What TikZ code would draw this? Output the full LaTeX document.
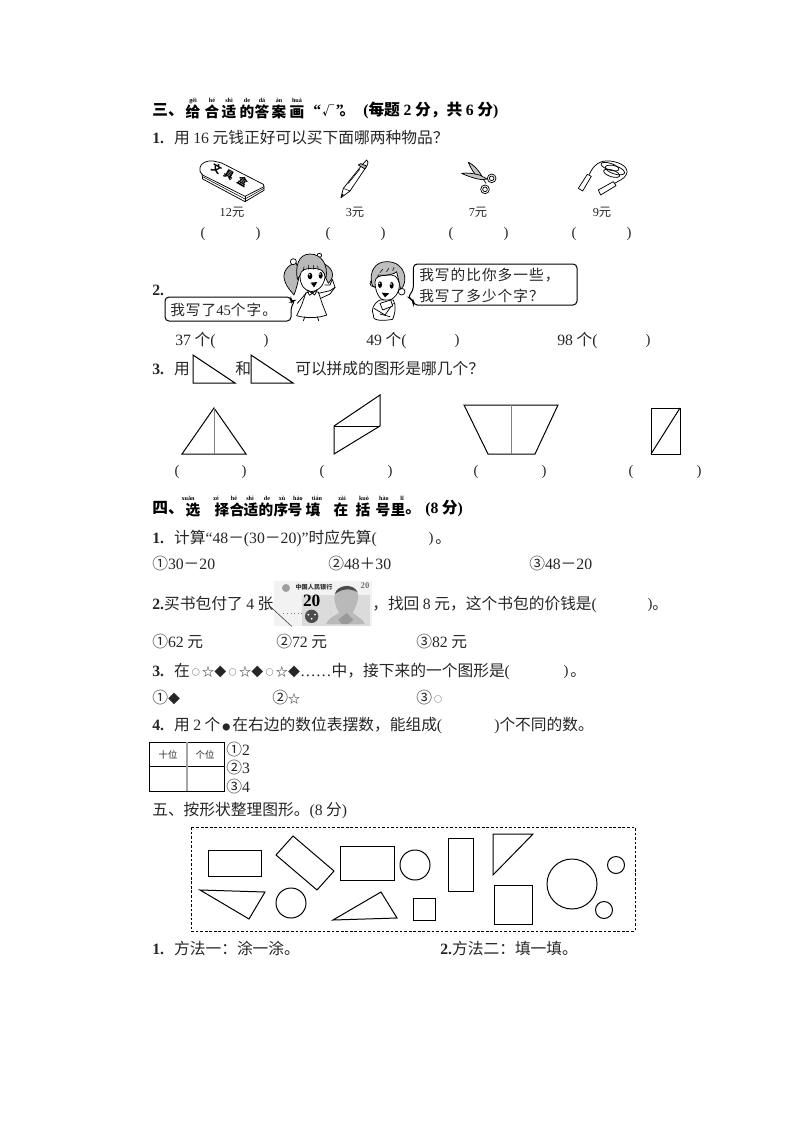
\documentclass[tikz,border=0pt]{standalone}
\usepackage{fontspec}
\setmainfont{Noto Sans CJK SC}
\newfontfamily\ser{Liberation Serif}
\newfontfamily\cjkwide[LetterSpace=7]{Noto Sans CJK SC}
\newcommand\lat[1]{{\ser #1}}
\newcommand\latb[1]{{\ser\bfseries #1}}
\newcommand\fs[1]{\fontsize{#1}{#1}\selectfont}
\newcommand\ocir{\makebox[9.2pt][c]{\raisebox{.6pt}{\fs{6}○}}}
\newcommand\ostar{\makebox[9.2pt][c]{\fs{9}☆}}
\newcommand\odia{\makebox[9.2pt][c]{\fs{9}◆}}
\colorlet{ink}{black!85}
\tikzset{
  txt/.style={anchor=mid west,inner sep=0pt,font=\fs{11.8},yshift=-1.2pt,text=ink},
  hd/.style={anchor=mid west,inner sep=0pt,font=\fs{11.8}\bfseries,yshift=-1.2pt},
  ch/.style={anchor=mid,inner sep=0pt,font=\fs{11}\bfseries,yshift=-1.2pt},
  py/.style={anchor=mid,inner sep=0pt,font=\fs{4.6}\ser\bfseries},
  pr/.style={anchor=mid,inner sep=0pt,font=\fs{11}\ser,yshift=-.6pt,text=ink},
  price/.style={anchor=mid,inner sep=0pt,font=\fs{9.2},yshift=-.8pt,text=ink},
  bub/.style={anchor=mid west,inner sep=0pt,font=\fs{11}\cjkwide,yshift=-1pt,text=ink},
  geo/.style={draw=black,line width=.75pt,line join=miter},
  ill/.style={draw=black,line width=.55pt,line join=round,line cap=round},
  thinl/.style={draw=black,line width=.4pt,line cap=round},
}
\begin{document}
\begin{tikzpicture}[x=.75pt,y=-.75pt]
\useasboundingbox (0,0) rectangle (794,1123);
\fill[white] (0,0) rectangle (794,1123);
% section three
\node[hd] (h3) at (152,110) {三、};
\foreach \n/\x/\c/\p in {a/193/给/gěi,b/212/合/hé,c/229/适/shì,d/247/的/de,e/262/答/dá,f/279/案/àn,g/297/画/huà}{
  \node[ch] (hc\n) at (\x,112) {\c};
  \node[py] (hp\n) at (\x,99) {\p};
}
\node[hd] (h3b) at (313,110) {\latb{“}\hspace{1pt}{\fs{9}√}\hspace{1pt}\latb{”}\hspace{-3pt}。};
\node[hd] (h3c) at (363,110) {\latb{(}每题 \latb{2} 分，共 \latb{6} 分\latb{)}};
\node[txt] (q1) at (152,138) {\latb{1}\latb{.}\hspace{7.5pt}用 \lat{16} 元钱正好可以买下面哪两种物品？};
% pencil box
\begin{scope}[shift={(190,155)},scale=1/3]
 \draw[ill,fill=white] (30,38) .. controls (32,25) and (48,16) .. (70,18) -- (95,24) -- (220,88) -- (222,95) -- (165,124) -- (38,60) .. controls (30,52) and (28,45) .. (30,38) -- cycle;
 \draw[ill] (36,56) -- (38,72) -- (165,140) -- (222,106) -- (222,95);
 \draw[ill] (165,124) -- (165,140);
 \draw[thinl] (38,65) -- (165,132) -- (222,100);
 \node[inner sep=0,rotate=-30,font=\fs{7.5}\bfseries] (box1) at (80,40) {文};
 \node[inner sep=0,rotate=-30,font=\fs{7.5}\bfseries] (box2) at (117,60) {具};
 \node[inner sep=0,rotate=-30,font=\fs{7.5}\bfseries] (box3) at (158,80) {盒};
 % pen
 \draw[ill,fill=white] (453,128) -- (460,100) -- (516,30) -- (530,15) -- (534,22) -- (531,32) -- (480,108) -- cycle;
 \draw[thinl] (460,100) -- (480,108);
 \draw[ill,fill=gray!60] (505,30) -- (512,26) -- (530,33) -- (525,42) -- cycle;
 \draw[thinl] (475,85) -- (510,42);
 \fill[black] (453,128) -- (455,116) -- (461,119) -- cycle;
\end{scope}
% scissors and rope
\begin{scope}[shift={(450,155)},scale=1/3]
 \draw[ill] (55,22) .. controls (70,30) and (85,50) .. (108,85);
 \draw[ill,fill=gray!45] (55,22) .. controls (62,40) and (72,55) .. (85,68) -- (95,62) .. controls (85,45) and (70,28) .. (55,22) -- cycle;
 \draw[ill,fill=gray!45] (35,55) .. controls (55,65) and (80,72) .. (95,74) -- (112,72) -- (88,60) .. controls (70,55) and (50,53) .. (35,55) -- cycle;
 \draw[ill] (125,70) circle (13);
 \draw[ill] (125,70) circle (7);
 \draw[ill] (105,103) circle (13);
 \draw[ill] (105,103) circle (7);
 % rope
 \draw[ill] (385,100) -- (412,58) -- (424,64) -- (398,108) -- cycle;
 \draw[ill] (445,105) -- (490,80) -- (498,92) -- (452,120) -- cycle;
 \draw[ill] (418,58) .. controls (430,30) and (450,15) .. (480,18) .. controls (515,22) and (540,40) .. (528,60) .. controls (522,72) and (505,78) .. (494,85);
 \draw[ill,rotate around={-18:(480,35)}] (480,35) ellipse (28 and 10);
 \draw[ill,rotate around={-18:(495,45)}] (495,45) ellipse (30 and 12);
 \draw[ill,rotate around={-18:(485,55)}] (485,55) ellipse (25 and 10);
\end{scope}
\node[price] (p1) at (232,212) {\lat{12}元};
\node[price] (p2) at (355,212) {\lat{3}元};
\node[price] (p3) at (478,212) {\lat{7}元};
\node[price] (p4) at (602,212) {\lat{9}元};
\foreach \n/\a/\b in {a/203/258,b/328/383,c/451/506,d/574/629}{
 \node[pr] (pl\n) at (\a,233) {(};
 \node[pr] (pr\n) at (\b,233) {)};
}
% item 2
\node[txt] (q2) at (152,290) {\latb{2.}};
\begin{scope}[shift={(280,250)},scale=1/3]
 % left girl: ponytails
 \draw[ill,fill=gray!55] (48,38) .. controls (20,45) and (5,70) .. (15,95) .. controls (22,115) and (35,125) .. (42,135) .. controls (50,115) and (55,90) .. (60,70) -- cycle;
 \draw[ill,fill=gray!55] (125,38) .. controls (155,50) and (170,75) .. (145,100) -- (130,70) -- cycle;
 \draw[ill,fill=white] (40,35) circle (9);
 \draw[ill,fill=white] (118,16) ellipse (7 and 6);
 \draw[ill,fill=gray!55] (90,12) .. controls (55,12) and (45,50) .. (52,88) -- (68,65) -- (125,65) -- (138,85) .. controls (145,45) and (125,12) .. (90,12) -- cycle;
 \draw[ill,fill=white] (60,78) .. controls (62,60) and (75,55) .. (95,55) .. controls (125,55) and (135,65) .. (135,82) .. controls (132,105) and (115,125) .. (95,125) .. controls (75,125) and (60,105) .. (60,78) -- cycle;
 \draw[thinl] (70,62) -- (72,50) (85,58) -- (85,46) (100,58) -- (100,46) (115,60) -- (113,48);
 \fill[black] (90,78) ellipse (7 and 10);
 \fill[black] (122,76) ellipse (6 and 10);
 \fill[white] (88,74) circle (2.5) (120,72) circle (2.5);
 \fill[black] (92,98) -- (112,96) -- (102,112) -- cycle;
 % girl body
 \draw[ill,fill=white] (78,128) -- (115,126) -- (128,165) -- (140,195) .. controls (115,205) and (75,205) .. (50,197) -- (65,165) -- cycle;
 \draw[ill,fill=white] (82,120) -- (97,130) -- (112,118) -- (104,135) -- (97,130) -- (88,136) -- cycle;
 \draw[ill] (115,130) -- (150,122) -- (165,112) -- (157,88) -- (150,105) -- (135,105);
 \draw[ill] (122,145) -- (150,132) -- (165,112);
 \draw[ill] (78,130) -- (52,160);
 \draw[ill] (75,200) -- (70,212) (112,200) -- (116,212);
 % right girl
 \draw[ill,fill=white] (280,100) circle (10);
 \draw[ill,fill=white] (365,125) circle (10);
 \draw[ill,fill=gray!50] (320,35) .. controls (285,35) and (268,65) .. (275,100) .. controls (278,110) and (282,112) .. (285,112) -- (295,75) .. controls (320,78) and (345,72) .. (350,65) -- (362,118) .. controls (385,100) and (380,35) .. (320,35) -- cycle;
 \draw[ill,fill=white] (285,95) .. controls (286,80) and (300,76) .. (320,76) .. controls (345,72) and (352,80) .. (358,100) .. controls (360,130) and (340,152) .. (318,152) .. controls (298,152) and (285,125) .. (285,95) -- cycle;
 \draw[thinl] (300,68) -- (308,58) (320,65) -- (326,55) (338,62) -- (342,52);
 \fill[black] (300,104) ellipse (6 and 10);
 \fill[black] (335,106) ellipse (6 and 10);
 \fill[white] (298,100) circle (2.5) (333,102) circle (2.5);
 \fill[black] (305,128) -- (328,130) -- (315,142) -- cycle;
 \draw[ill,fill=white] (300,150) .. controls (280,160) and (272,180) .. (280,195) .. controls (275,210) and (300,215) .. (338,208) .. controls (345,190) and (350,170) .. (340,150) -- cycle;
 \draw[ill] (282,175) -- (315,195) -- (340,160);
 \draw[ill,fill=white] (300,160) -- (332,150) -- (338,168) -- (308,180) -- cycle;
 \draw[ill] (300,192) -- (330,200);
 % bubbles
 \draw[line width=.75pt,fill=white,rounded corners=3pt] (-345,141) -- (33,141) -- (33,157) -- (46,150) -- (33,170) -- (33,213) -- (-345,213) -- cycle;
 \draw[line width=.75pt,fill=white,rounded corners=3pt] (400,42) -- (891,42) -- (891,165) -- (400,165) -- (400,150) -- (382,142) -- (400,122) -- cycle;
\end{scope}
\node[bub] (b1) at (170,311) {我写了\lat{45}个字。};
\node[bub] (b2) at (419,276) {我写的比你多一些，};
\node[bub] (b3) at (419,297) {我写了多少个字？};
\node[txt] (a1) at (175,340) {\lat{37} 个\lat{(}};
\node[pr] (a1r) at (266,340) {)};
\node[txt] (a2) at (366,340) {\lat{49} 个\lat{(}};
\node[pr] (a2r) at (457,340) {)};
\node[txt] (a3) at (557,340) {\lat{98} 个\lat{(}};
\node[pr] (a3r) at (648,340) {)};
% item 3
\node[txt] (q3a) at (152,369) {\latb{3}\latb{.}\hspace{7.5pt}用};
\draw[geo] (193,355) -- (193,383) -- (235,383) -- cycle;
\node[txt] (q3b) at (235,369) {和};
\draw[geo] (251,355) -- (251,383) -- (293,383) -- cycle;
\node[txt] (q3c) at (295,369) {可以拼成的图形是哪几个？};
% composite shapes
\draw[geo] (214,408) -- (182,454) -- (246,454) -- cycle;
\draw[geo,draw=gray] (214,408) -- (214,454);
\draw[geo] (334,426) -- (380,395) -- (380,426) -- (334,454) -- cycle;
\draw[geo] (334,426) -- (380,426);
\draw[geo] (464,405) -- (558,405) -- (535,454) -- (488,454) -- cycle;
\draw[geo,draw=gray] (511,405) -- (511,454);
\draw[geo] (651,408) rectangle (680,454);
\draw[geo] (651,454) -- (680,408);
\foreach \n/\a/\b in {a/177/244,b/322/390,c/476/544,d/631/699}{
 \node[pr] (ql\n) at (\a,471) {(};
 \node[pr] (qr\n) at (\b,471) {)};
}
% section four
\node[hd] (h4) at (152,508) {四、};
\foreach \n/\x/\c in {a/193/选,b/222/择,c/237/合,d/251/适,e/266/的,f/281/序,g/295/号,h/313/填,i/341/在,j/363/括,k/383/号,l/398/里}{
  \node[ch] (fc\n) at (\x,510) {\c};
}
\foreach \n/\x/\p in {a/188/xuǎn,b/216/zé,c/234/hé,d/250/shì,e/267/de,f/282/xù,g/298/hào,h/317/tián,i/342/zài,j/364/kuò,k/384/hào,l/402/lǐ}{
  \node[py] (fp\n) at (\x,497) {\p};
}
\node[hd] (h4b) at (405,508) {。};
\node[hd] (h4c) at (425,508) {\latb{(8} 分\latb{)}};
\node[txt] (r1) at (152,538) {\latb{1}\latb{.}\hspace{7.5pt}计算\lat{“48}－\lat{(30}－\lat{20)”}时应先算\lat{(}};
\node[pr] (r1r) at (431,538) {)};
\node[txt] (r1e) at (435,538) {。};
\node[txt] (o1) at (152,564) {①\lat{30}－\lat{20}};
\node[txt] (o2) at (328,564) {②\lat{48}＋\lat{30}};
\node[txt] (o3) at (529,564) {③\lat{48}－\lat{20}};
\node[txt] (r2) at (152,604) {\latb{2.}买书包付了 \lat{4} 张};
% banknote
\begin{scope}[shift={(270,578)},scale=1/3]
 \fill[gray!10] (12,10) rectangle (305,145);
 \fill[gray!28] (95,50) rectangle (300,145);
 \fill[gray!55] (168,138) .. controls (175,120) and (195,112) .. (208,105) .. controls (195,85) and (190,65) .. (195,45) .. controls (205,20) and (250,15) .. (262,40) .. controls (270,65) and (255,90) .. (248,105) .. controls (262,115) and (280,125) .. (285,138) -- cycle;
 \fill[black!70] (195,48) .. controls (200,20) and (250,15) .. (262,42) .. controls (240,30) and (215,32) .. (195,48) -- cycle;
 \fill[gray!80] (205,125) -- (230,105) -- (250,125) -- (235,138) -- (215,138) -- cycle;
 \fill[black!70] (125,115) circle (20);
 \fill[white] (115,110) circle (3) (135,110) circle (3) (125,122) circle (3);
 \fill[gray!75] (48,30) circle (12);
 \node[inner sep=0,font=\fs{4.6}\bfseries,text=black!80] (bn1) at (132,27) {中国人民银行};
 \node[inner sep=0,font=\fs{13}\ser\bfseries] (bn2) at (125,67) {20};
 \node[inner sep=0,font=\fs{6.5}\ser\bfseries,text=black!55] (bn3) at (285,24) {20};
 \draw[black!70,line width=.5pt] (0,85) -- (65,145);
 \draw[black!50,line width=.7pt,dotted] (40,105) -- (100,105);
\end{scope}
\node[txt] (r2b) at (372,604) {，找回 \lat{8} 元，这个书包的价钱是\lat{(}};
\node[pr] (r2r) at (650,604) {)};
\node[txt] (r2e) at (652,604) {。};
\node[txt] (o4) at (152,642) {①\lat{62} 元};
\node[txt] (o5) at (276,642) {②\lat{72} 元};
\node[txt] (o6) at (416,642) {③\lat{82} 元};
\node[txt] (r3) at (152,671) {\latb{3}\latb{.}\hspace{7.5pt}在\ocir\ostar\odia\ocir\ostar\odia\ocir\ostar\odia\lat{……}中，接下来的一个图形是\lat{(}};
\node[pr] (r3r) at (566,671) {)};
\node[txt] (r3e) at (570,671) {。};
\node[txt] (o7) at (152,698) {①\odia};
\node[txt] (o8) at (272,698) {②\ostar};
\node[txt] (o9) at (416,698) {③\ocir};
\node[txt] (r4) at (152,725) {\latb{4}\latb{.}\hspace{7.5pt}用 \lat{2} 个\makebox[9pt][c]{\fs{6}●}在右边的数位表摆数，能组成\lat{(}};
\node[txt] (r4b) at (494,725) {\lat{)}个不同的数。};
% table
\draw[geo] (149,742) rectangle (224,791);
\draw[geo] (149,766) -- (224,766);
\draw[geo,draw=gray!70,line width=1pt] (187,742) -- (187,791);
\node[price,font=\fs{7}] (t1) at (168,754) {十位};
\node[price,font=\fs{7}] (t2) at (205,754) {个位};
\node[txt] (t3) at (226,750) {①\lat{2}};
\node[txt] (t4) at (226,768) {②\lat{3}};
\node[txt] (t5) at (226,787) {③\lat{4}};
% section five
\node[txt] (h5) at (152,810) {五、按形状整理图形。\lat{(8} 分\lat{)}};
\draw[line width=.7pt,dash pattern=on 2pt off 1.4pt] (191,827) rectangle (635,931);
\draw[geo] (208,850) rectangle (261,876);
\draw[geo] (293,836) -- (334,871) -- (317,890) -- (276,855) -- cycle;
\draw[geo] (340,846) rectangle (394,880);
\draw[geo] (415,865) circle (15);
\draw[geo] (448,838) rectangle (473,891);
\draw[geo] (493,834) -- (533,834) -- (493,875) -- cycle;
\draw[geo] (572,884) circle (25);
\draw[geo] (616,865) circle (8.5);
\draw[geo] (604,910) circle (8.5);
\draw[geo] (494,885) rectangle (532,924);
\draw[geo] (200,890) -- (265,892) -- (249,919) -- cycle;
\draw[geo] (291,903) circle (15);
\draw[geo] (333,920) -- (381,892) -- (397,918) -- cycle;
\draw[geo] (413,898) rectangle (435,920);
\node[txt] (e1) at (152,949) {\latb{1}\latb{.}\hspace{7.5pt}方法一：涂一涂。};
\node[txt] (e2) at (440,949) {\latb{2.}方法二：填一填。};
\end{tikzpicture}
\end{document}
